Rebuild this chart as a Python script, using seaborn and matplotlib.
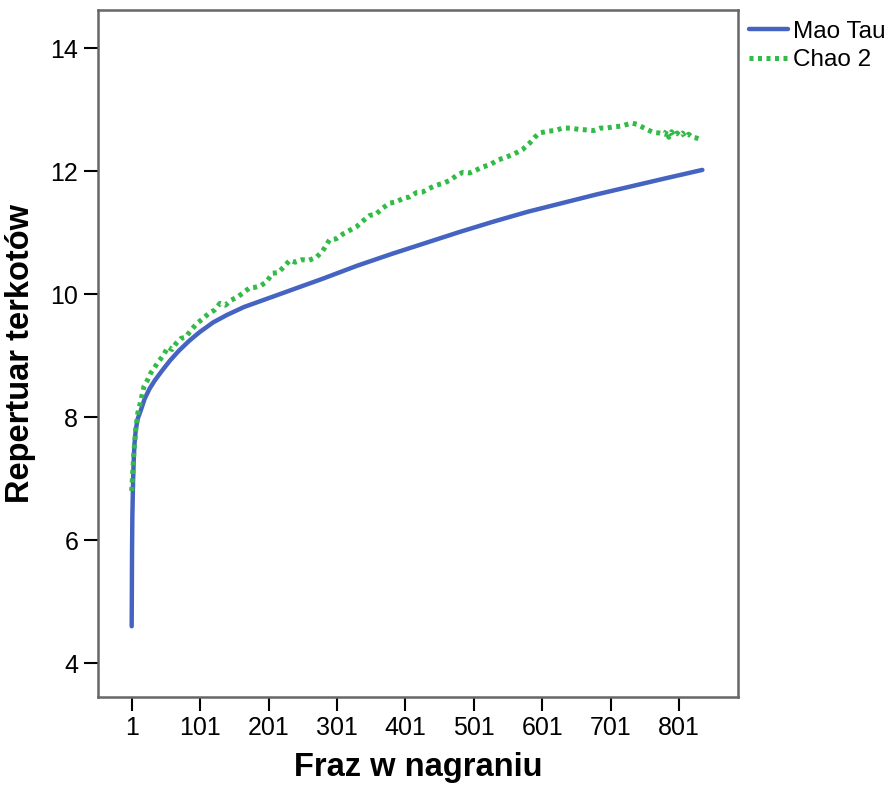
import numpy as np
import pandas as pd
import matplotlib
matplotlib.use("Agg")
import matplotlib.pyplot as plt
import seaborn as sns

# Mao Tau estimator (smooth rarefaction curve)
mao_x = [1, 1.5, 2, 3, 4, 5, 7, 10, 14, 20, 27, 35, 45, 57, 70, 85, 100, 120, 140, 165, 200,
         240, 280, 330, 380, 430, 480, 530, 580, 630, 680, 730, 780, 835]
mao_y = [4.6, 5.8, 6.4, 6.95, 7.3, 7.55, 7.8, 7.98, 8.1, 8.3, 8.46, 8.6, 8.75, 8.92, 9.08, 9.24,
         9.38, 9.54, 9.66, 9.79, 9.93, 10.09, 10.25, 10.46, 10.65, 10.83, 11.01, 11.18, 11.34,
         11.48, 11.62, 11.75, 11.88, 12.02]

# Chao 2 estimator (noisy)
chao_x = [1, 4, 7, 10, 14, 19, 24, 29, 34, 40, 47, 54, 60, 66, 73, 80, 88, 97, 105, 113, 122,
          130, 138, 146, 155, 164, 173, 181, 190, 198, 207, 215, 224, 232, 240, 250, 260, 271,
          280, 290, 300, 310, 320, 330, 340, 349, 358, 368, 378, 388, 398, 407, 417, 426, 436,
          446, 456, 466, 476, 485, 495, 505, 514, 524, 536, 549, 560, 572, 583, 590, 597, 610,
          620, 631, 642, 654, 666, 676, 686, 695, 705, 715, 725, 732, 740, 750, 763, 772, 780,
          783, 786, 790, 794, 798, 802, 806, 810, 815, 820, 826, 831, 835]
chao_y = [6.8, 7.4, 7.8, 8.07, 8.25, 8.5, 8.6, 8.72, 8.8, 8.9, 9.0, 9.14, 9.1, 9.2, 9.28, 9.3,
          9.42, 9.53, 9.6, 9.68, 9.74, 9.85, 9.82, 9.9, 9.95, 10.02, 10.1, 10.11, 10.14, 10.2,
          10.34, 10.35, 10.45, 10.55, 10.52, 10.56, 10.55, 10.6, 10.7, 10.88, 10.9, 10.98,
          11.04, 11.1, 11.2, 11.28, 11.3, 11.4, 11.48, 11.5, 11.56, 11.58, 11.65, 11.66, 11.72,
          11.77, 11.8, 11.85, 11.93, 11.98, 11.97, 12.02, 12.07, 12.1, 12.18, 12.23, 12.28,
          12.35, 12.46, 12.55, 12.62, 12.65, 12.66, 12.7, 12.7, 12.68, 12.67, 12.66, 12.7, 12.7,
          12.72, 12.73, 12.76, 12.78, 12.76, 12.7, 12.63, 12.62, 12.6, 12.66, 12.55, 12.64,
          12.57, 12.62, 12.58, 12.62, 12.55, 12.6, 12.55, 12.54, 12.52, 12.5]

x_ticks = [1, 101, 201, 301, 401, 501, 601, 701, 801]
y_ticks = [4, 6, 8, 10, 12, 14]

sns.set_style("white")
plt.rcParams["font.family"] = ["Liberation Sans", "DejaVu Sans"]
plt.rcParams["text.color"] = "black"
plt.rcParams["axes.labelcolor"] = "black"
plt.rcParams["xtick.color"] = "black"
plt.rcParams["ytick.color"] = "black"

fig = plt.figure(figsize=(8.88, 7.87), dpi=100)
ax = fig.add_axes([0.110, 0.1144, 0.721, 0.8729])

mao = pd.DataFrame({"x": mao_x, "y": mao_y})
chao = pd.DataFrame({"x": chao_x, "y": chao_y})
sns.lineplot(data=mao, x="x", y="y", ax=ax, color="#4563c0", linewidth=3.2, label="Mao Tau")
sns.lineplot(data=chao, x="x", y="y", ax=ax, color="#33bb48", linewidth=3.6,
             linestyle=(0, (0.8, 0.9)), label="Chao 2")

ax.set_xlim(-48.7, 887)
ax.set_ylim(3.45, 14.62)
ax.set_xticks(x_ticks)
ax.set_yticks(y_ticks)
ax.set_xticklabels([str(v) for v in x_ticks], fontsize=18)
ax.set_yticklabels([str(v) for v in y_ticks], fontsize=18)
ax.tick_params(axis="both", direction="out", length=10, width=1.5, color="black",
               left=True, bottom=True, pad=4)
for s in ax.spines.values():
    s.set_color("#666666")
    s.set_linewidth(1.8)

ax.set_xlabel("Fraz w nagraniu", fontsize=23.5, fontweight="bold", labelpad=8)
ax.set_ylabel("Repertuar terkotów", fontsize=23.5, fontweight="bold", labelpad=10)

leg = ax.legend(loc="upper left", bbox_to_anchor=(1.0, 1.0), frameon=False, fontsize=17.5,
                handlelength=1.6, handletextpad=0.2, borderaxespad=0.05, labelspacing=0.25)

fig.savefig("out.png", dpi=100)
